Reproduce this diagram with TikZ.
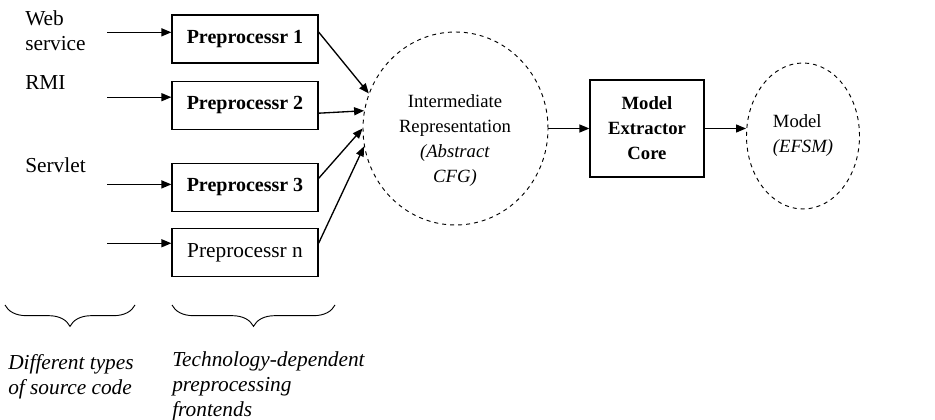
\documentclass[tikz,border=0pt]{standalone}
\usepackage{fontspec}
\setmainfont{Liberation Serif}
\usepackage{tikz}
\usetikzlibrary{arrows.meta,positioning,shapes.geometric,decorations.pathreplacing}
\tikzset{
  txt/.style={font=\fontsize{16}{18.75}\selectfont, inner sep=0pt},
  small/.style={font=\fontsize{14}{18.75}\selectfont},
  box/.style={draw, line width=0.9pt, txt, minimum width=109.5pt, minimum height=36pt},
  bbox/.style={box, font=\fontsize{15}{18.75}\selectfont\bfseries},
  ell/.style={ellipse, draw, dashed, dash pattern=on 3pt off 3pt, line width=0.7pt, txt},
  arr/.style={-{Triangle[length=7.5pt,width=6pt]}, line width=1pt},
  brc/.style={decorate, decoration={brace, mirror, amplitude=16pt}, line width=0.7pt},
}
\begin{document}
\begin{tikzpicture}[x=0.75pt, y=-0.75pt]
\useasboundingbox (0,0) rectangle (935,420);
% preprocessors
\node[bbox] (p1) at (245,39) {Preprocessr 1};
\node[bbox, below=12.75pt of p1] (p2) {Preprocessr 2};
\node[bbox, below=24.75pt of p2] (p3) {Preprocessr 3};
\node[box, below=12pt of p3] (pn) {Preprocessr n};
% source kinds
\node[txt, align=left, anchor=west] (ws) at (25,31) {Web\\service};
\node[txt, anchor=west] (rmi) at (25,83) {RMI};
\node[txt, anchor=west] (srv) at (25,165) {Servlet};
% core
\node[ell, minimum width=138.75pt, minimum height=144.75pt] (ir) at (455.5,128.5) {};
\node[txt, small, align=center] (irt) at (455,140.5) {Intermediate\\Representation\\\textit{(Abstract}\\\textit{CFG)}};
\node[box, small, align=center, minimum width=85.5pt, minimum height=72.75pt] (me) at (647,128.5) {\textbf{Model}\\\textbf{Extractor}\\\textbf{Core}};
\node[ell, small, align=left, minimum width=84.75pt, minimum height=109.5pt] (mdl) at (803,136) {Model\\\textit{(EFSM)}};
% arrows
\foreach \p/\d in {p1/5pt, p2/6pt, p3/2.25pt, pn/7pt}
  \draw[arr] ([xshift=-48pt, yshift=\d]\p.west) -- ([yshift=\d]\p.west);
\draw[arr] ([yshift=5.25pt]p1.east) -- (ir.158);
\draw[arr] ([yshift=-6pt]p2.east) -- (ir.169);
\draw[arr] ([yshift=6.75pt]p3.east) -- (ir.180);
\draw[arr] ([yshift=7pt]pn.east) -- (ir.191);
\draw[arr] (ir.east) -- (me.west);
\draw[arr] (me.east) -- (me.east -| mdl.west);
% braces
\draw[brc] (5,305) -- (135,305);
\draw[brc] (172,305) -- (335,305);
\node[txt, align=left, anchor=west] (src) at (8,376.5) {\textit{Different types}\\\textit{of source code}};
\node[txt, align=left, anchor=west] (fe) at (172,386) {\textit{Technology-dependent}\\\textit{preprocessing}\\\textit{frontends}};
\end{tikzpicture}
\end{document}
